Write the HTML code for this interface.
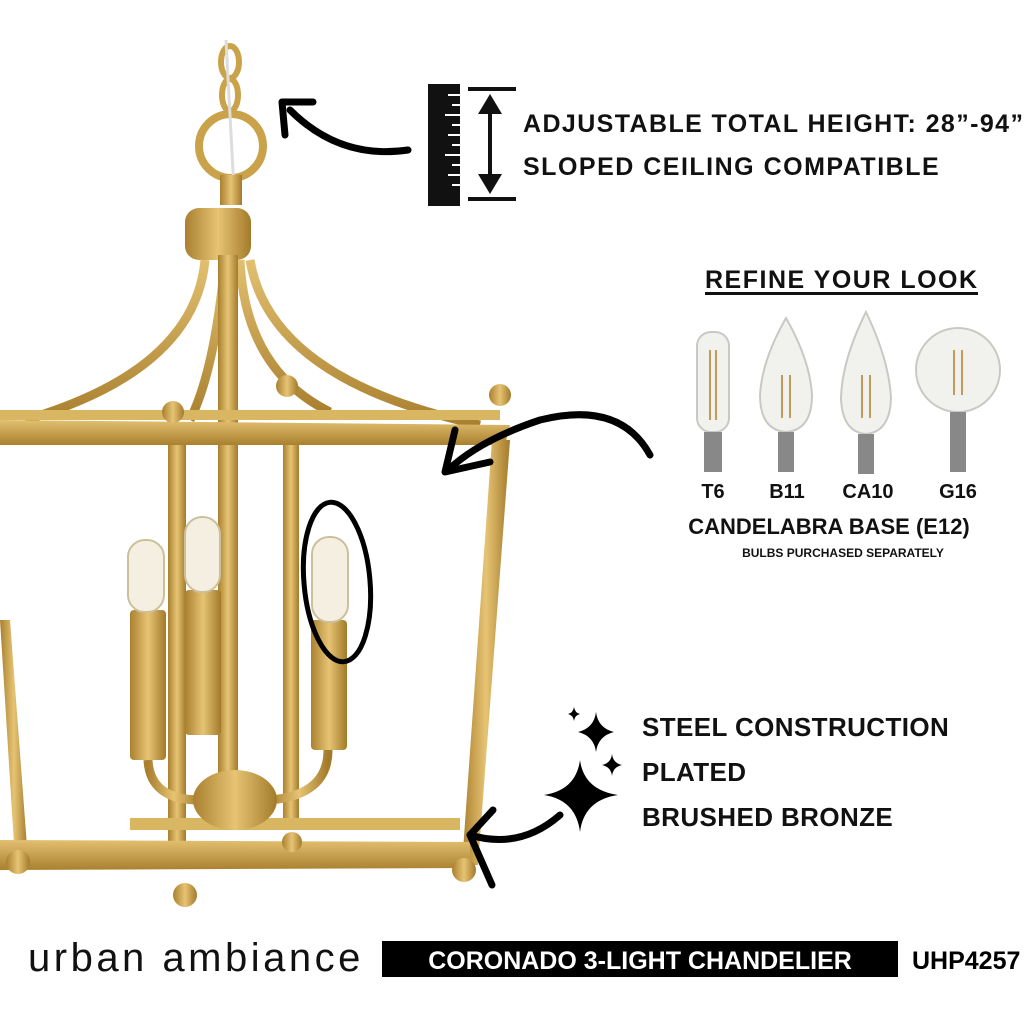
<!DOCTYPE html>
<html><head><meta charset="utf-8"><style>
body{margin:0;background:#fff;}
svg{display:block}
text{font-family:"Liberation Sans",sans-serif;font-weight:bold;}
</style></head><body>
<svg width="1024" height="1024" viewBox="0 0 1024 1024" xmlns="http://www.w3.org/2000/svg">
<defs>
<linearGradient id="g" x1="0" x2="1"><stop offset="0" stop-color="#a9802f"/><stop offset="0.5" stop-color="#e6c474"/><stop offset="1" stop-color="#a27a2a"/></linearGradient>
<linearGradient id="gv" x1="0" y1="0" x2="0" y2="1"><stop offset="0" stop-color="#e2c070"/><stop offset="1" stop-color="#a9802f"/></linearGradient>
</defs>
<rect width="1024" height="1024" fill="#fff"/>
<g fill="none" stroke="#c9a24a" stroke-width="6">
<ellipse cx="230" cy="62" rx="9" ry="16"/><ellipse cx="230" cy="95" rx="8" ry="16"/>
<circle cx="231" cy="146" r="32" stroke-width="8"/>
</g>
<line x1="226" y1="40" x2="234" y2="190" stroke="#ddd" stroke-width="3"/>
<rect x="220" y="175" width="22" height="30" fill="url(#g)"/>
<rect x="185" y="208" width="66" height="52" rx="14" fill="url(#g)"/>
<g fill="none" stroke="url(#gv)" stroke-width="9">
<path d="M205 260 Q195 370 25 420"/>
<path d="M225 260 Q215 370 190 420"/>
<path d="M240 260 Q245 370 330 412"/>
<path d="M250 260 Q270 380 480 425"/>
</g>
<rect x="218" y="255" width="20" height="540" fill="url(#g)"/>
<polygon points="0,420 510,425 505,445 0,445" fill="url(#gv)"/>
<rect x="0" y="410" width="500" height="10" fill="#d8b662"/>
<circle cx="173" cy="412" r="11" fill="url(#g)"/><circle cx="287" cy="386" r="11" fill="url(#g)"/><circle cx="500" cy="395" r="11" fill="url(#g)"/>
<rect x="168" y="445" width="18" height="420" fill="url(#g)"/>
<rect x="283" y="445" width="16" height="385" fill="url(#g)"/>
<polygon points="492,440 510,440 478,865 462,865" fill="url(#g)"/>
<polygon points="0,620 10,620 28,860 15,860" fill="url(#g)"/>
<polygon points="0,840 470,842 470,868 0,870" fill="url(#gv)"/>
<rect x="130" y="818" width="330" height="12" fill="#d8b662"/>
<circle cx="185" cy="895" r="12" fill="url(#g)"/><circle cx="464" cy="870" r="12" fill="url(#g)"/><circle cx="18" cy="862" r="12" fill="url(#g)"/><circle cx="292" cy="842" r="10" fill="url(#g)"/>
<g fill="none" stroke="url(#g)" stroke-width="9">
<path d="M148 760 Q150 800 200 800"/><path d="M328 750 Q328 795 270 800"/><path d="M203 735 L203 790"/>
</g>
<ellipse cx="235" cy="800" rx="42" ry="30" fill="url(#g)"/>
<rect x="130" y="610" width="36" height="150" rx="4" fill="url(#g)"/>
<rect x="185" y="590" width="36" height="145" rx="4" fill="url(#g)"/>
<rect x="311" y="620" width="36" height="130" rx="4" fill="url(#g)"/>
<g fill="#f4efe0" stroke="#cbbf9c" stroke-width="2">
<rect x="128" y="540" width="36" height="72" rx="17"/>
<rect x="185" y="517" width="35" height="75" rx="17"/>
<rect x="312" y="537" width="36" height="85" rx="17"/>
</g>
<g fill="none" stroke="#000" stroke-width="7" stroke-linecap="round">
<path d="M408 150 Q340 160 290 110"/>
<path d="M282 102 L285 135 M282 102 L313 102"/>
<path d="M650 455 Q620 400 540 420 Q480 440 448 470"/>
<path d="M445 472 L455 430 M445 472 L490 462"/>
<ellipse cx="337" cy="582" rx="33" ry="80" transform="rotate(-5 337 582)" stroke-width="5"/>
<path d="M560 815 Q520 850 470 835"/>
<path d="M470 835 L493 810 M470 835 L492 885"/>
</g>
<rect x="428" y="84" width="32" height="122" fill="#111"/>
<g stroke="#fff" stroke-width="2"><line x1="448" y1="95" x2="460" y2="95"/><line x1="452" y1="105" x2="460" y2="105"/><line x1="445" y1="115" x2="460" y2="115"/><line x1="452" y1="125" x2="460" y2="125"/><line x1="448" y1="135" x2="460" y2="135"/><line x1="452" y1="145" x2="460" y2="145"/><line x1="445" y1="155" x2="460" y2="155"/><line x1="452" y1="165" x2="460" y2="165"/><line x1="448" y1="175" x2="460" y2="175"/><line x1="452" y1="185" x2="460" y2="185"/></g>
<g stroke="#111" stroke-width="4"><line x1="468" y1="89" x2="516" y2="89"/><line x1="468" y1="199" x2="516" y2="199"/><line x1="490" y1="100" x2="490" y2="188"/></g>
<polygon points="490,94 478,114 502,114" fill="#111"/><polygon points="490,194 478,174 502,174" fill="#111"/>
<text x="523" y="132" font-size="25" fill="#111" letter-spacing="1.4">ADJUSTABLE TOTAL HEIGHT: 28”-94”</text>
<text x="523" y="175" font-size="25" fill="#111" letter-spacing="1.5">SLOPED CEILING COMPATIBLE</text>
<text x="705" y="288" font-size="25" fill="#111" letter-spacing="1.5">REFINE YOUR LOOK</text>
<rect x="705" y="292" width="273" height="3" fill="#111"/>
<g fill="#f1f1ee" stroke="#c9c9c4" stroke-width="2">
<rect x="697" y="332" width="32" height="100" rx="14"/>
<path d="M786 318 Q762 360 760 395 Q760 430 786 432 Q812 430 812 395 Q810 360 786 318Z"/>
<path d="M866 312 Q842 360 841 398 Q842 432 866 434 Q890 432 891 398 Q889 360 866 312Z"/>
<circle cx="958" cy="370" r="42"/>
</g>
<g fill="#888"><rect x="704" y="432" width="18" height="40"/><rect x="778" y="432" width="16" height="40"/><rect x="858" y="434" width="16" height="40"/><rect x="950" y="412" width="16" height="60"/></g>
<g stroke="#c49a5b" stroke-width="2"><line x1="710" y1="350" x2="710" y2="420"/><line x1="716" y1="350" x2="716" y2="420"/><line x1="782" y1="375" x2="782" y2="418"/><line x1="790" y1="375" x2="790" y2="418"/><line x1="862" y1="375" x2="862" y2="418"/><line x1="870" y1="375" x2="870" y2="418"/><line x1="954" y1="350" x2="954" y2="395"/><line x1="962" y1="350" x2="962" y2="395"/></g>
<text x="713" y="498" font-size="20" fill="#111" text-anchor="middle">T6</text>
<text x="787" y="498" font-size="20" fill="#111" text-anchor="middle">B11</text>
<text x="868" y="498" font-size="20" fill="#111" text-anchor="middle">CA10</text>
<text x="958" y="498" font-size="20" fill="#111" text-anchor="middle">G16</text>
<text x="829" y="534" font-size="22" fill="#111" text-anchor="middle">CANDELABRA BASE (E12)</text>
<text x="843" y="557" font-size="12" fill="#111" text-anchor="middle">BULBS PURCHASED SEPARATELY</text>
<g fill="#000">
<path d="M596 712 Q598 728 614 732 Q598 736 596 752 Q594 736 578 732 Q594 728 596 712Z"/>
<path d="M580 760 Q584 790 618 795 Q584 800 580 832 Q576 800 544 795 Q576 790 580 760Z"/>
<path d="M612 754 Q613 763 622 765 Q613 767 612 776 Q611 767 602 765 Q611 763 612 754Z"/>
<path d="M574 707 Q575 713 580 714 Q575 715 574 721 Q573 715 568 714 Q573 713 574 707Z"/>
</g>
<text x="642" y="736" font-size="26" fill="#111" letter-spacing="0.4">STEEL CONSTRUCTION</text>
<text x="642" y="781" font-size="26" fill="#111" letter-spacing="0.4">PLATED</text>
<text x="642" y="826" font-size="26" fill="#111" letter-spacing="0.4">BRUSHED BRONZE</text>
<text x="28" y="971" font-size="40" fill="#111" style="font-weight:normal" letter-spacing="3.5">urban ambiance</text>
<rect x="382" y="941" width="516" height="36" fill="#000"/>
<text x="640" y="969" font-size="25" fill="#fff" text-anchor="middle">CORONADO 3-LIGHT CHANDELIER</text>
<text x="912" y="969" font-size="25" fill="#000">UHP4257</text>
</svg>
</body></html>
